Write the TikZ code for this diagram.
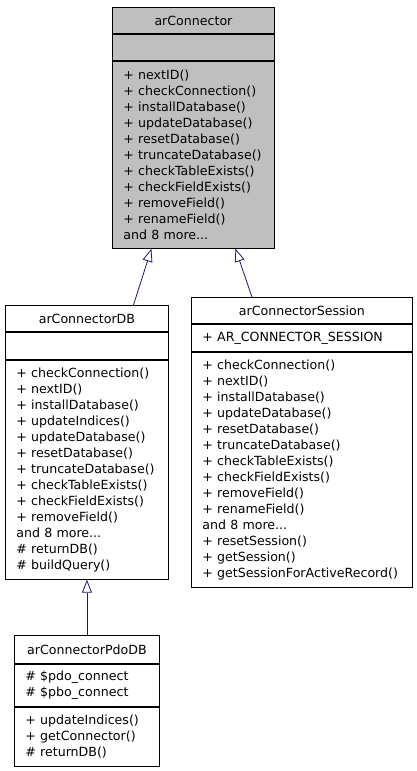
\documentclass[tikz,border=0pt]{standalone}
\usepackage{fontspec}
\setmainfont{DejaVu Sans}
\usetikzlibrary{arrows.meta}
\definecolor{edgeblue}{HTML}{191970}
\definecolor{basegray}{HTML}{BFBFBF}

\begin{document}
\begin{tikzpicture}[x=1pt,y=-1pt,
    cls/.style={draw, line width=.9pt, anchor=north west, inner xsep=11pt, inner ysep=0pt,
      align=left, font=\fontsize{12.6}{16}\selectfont},
    ttl/.style={cls, align=center},
    inh/.style={draw=edgeblue, line width=.8pt, -{Triangle[open,length=13pt,width=10pt]}}]
  \useasboundingbox (0,0) rectangle (416,771);

  % base class
  \node[ttl, fill=basegray, text width=140pt, minimum height=26pt] (con) at (112,7) {arConnector};
  \node[cls, fill=basegray, text width=140pt, minimum height=26pt] (conA) at (con.south west) {};
  \node[cls, fill=basegray, text width=140pt, minimum height=187pt] (conM) at (conA.south west)
    {+ nextID()\\+ checkConnection()\\+ installDatabase()\\+ updateDatabase()\\+ resetDatabase()\\
     + truncateDatabase()\\+ checkTableExists()\\+ checkFieldExists()\\+ removeField()\\
     + renameField()\\and 8 more...};

  % arConnectorDB
  \node[ttl, text width=141pt, minimum height=26pt] (db) at (5,305) {arConnectorDB};
  \node[cls, text width=141pt, minimum height=27pt] (dbA) at (db.south west) {};
  \node[cls, text width=141pt, minimum height=219pt] (dbM) at (dbA.south west)
    {+ checkConnection()\\+ nextID()\\+ installDatabase()\\+ updateIndices()\\+ updateDatabase()\\
     + resetDatabase()\\+ truncateDatabase()\\+ checkTableExists()\\+ checkFieldExists()\\
     + removeField()\\and 8 more...\\\# returnDB()\\\# buildQuery()};

  % arConnectorSession
  \node[ttl, text width=199pt, minimum height=26pt] (ses) at (191,297) {arConnectorSession};
  \node[cls, text width=199pt, minimum height=27pt] (sesA) at (ses.south west) {+ AR\_CONNECTOR\_SESSION};
  \node[cls, text width=199pt, minimum height=235pt] (sesM) at (sesA.south west)
    {+ checkConnection()\\+ nextID()\\+ installDatabase()\\+ updateDatabase()\\+ resetDatabase()\\
     + truncateDatabase()\\+ checkTableExists()\\+ checkFieldExists()\\+ removeField()\\
     + renameField()\\and 8 more...\\+ resetSession()\\+ getSession()\\+ getSessionForActiveRecord()};

  % arConnectorPdoDB
  \node[ttl, text width=123pt, minimum height=28pt] (pdo) at (14,635) {arConnectorPdoDB};
  \node[cls, text width=123pt, minimum height=42pt] (pdoA) at (pdo.south west) {\# \$pdo\_connect\\\# \$pbo\_connect};
  \node[cls, text width=123pt, minimum height=59pt] (pdoM) at (pdoA.south west)
    {+ updateIndices()\\+ getConnector()\\\# returnDB()};

  \draw[inh] ([xshift=46.5pt]db.north) -- ([xshift=-42pt]conM.south);
  \draw[inh] ([xshift=-50pt]ses.north) -- ([xshift=42pt]conM.south);
  \draw[inh] (pdo.north) -- (dbM.south);
\end{tikzpicture}
\end{document}
